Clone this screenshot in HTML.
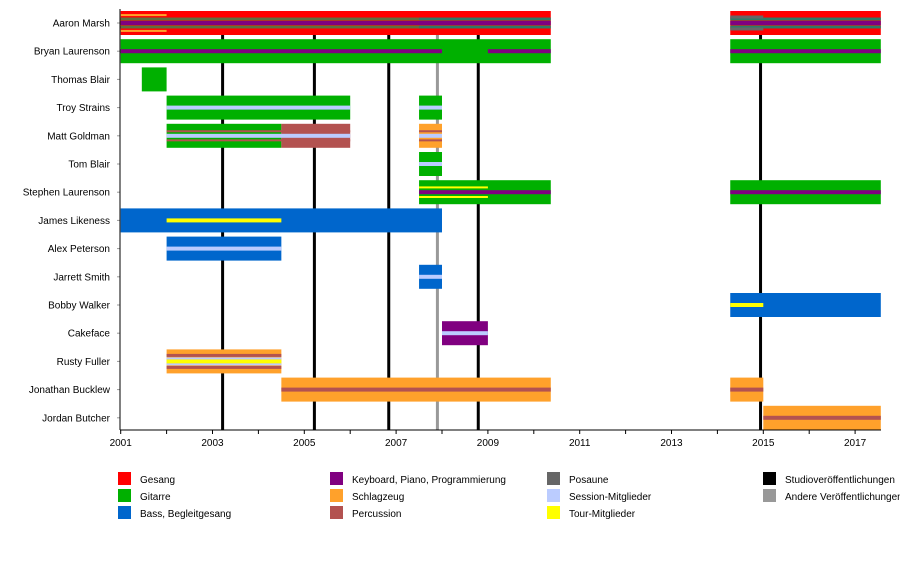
<!DOCTYPE html>
<html><head><meta charset="utf-8"><style>
body{margin:0;background:#fff;font-family:"Liberation Sans",Arial,sans-serif;}
svg text{font-family:"Liberation Sans",Arial,sans-serif;font-size:10px;fill:#000;}
</style></head><body>
<svg id="chart" width="900" height="580" xmlns="http://www.w3.org/2000/svg"></svg>
<script>
const members=["Aaron Marsh","Bryan Laurenson","Thomas Blair","Troy Strains","Matt Goldman","Tom Blair","Stephen Laurenson","James Likeness","Alex Peterson","Jarrett Smith","Bobby Walker","Cakeface","Rusty Fuller","Jonathan Bucklew","Jordan Butcher"];
// [memberIndex, start, end, role]
const mainBars=[[0,2001,2010.37,"vocals"],[0,2014.28,2017.56,"vocals"],[1,2001,2010.37,"guitar"],[1,2014.28,2017.56,"guitar"],[2,2001.46,2002,"guitar"],[3,2002,2006,"guitar"],[3,2007.5,2008,"guitar"],[4,2002,2004.5,"guitar"],[4,2004.5,2006,"percussion"],[4,2007.5,2008,"drums"],[5,2007.5,2008,"guitar"],[6,2007.5,2010.37,"guitar"],[6,2014.28,2017.56,"guitar"],[7,2001,2008,"bass"],[8,2002,2004.5,"bass"],[9,2007.5,2008,"bass"],[10,2014.28,2017.56,"bass"],[11,2008,2009,"keys"],[12,2002,2004.5,"drums"],[13,2004.5,2010.37,"drums"],[13,2014.28,2015,"drums"],[14,2015,2017.56,"drums"]];
// [memberIndex, start, end, role, offset(-1..1 from center), thickness]
const lineBars=[[0,2001,2010.37,"keys",0,4],[0,2001,2007.5,"tromboneA",-0.33,3],[0,2001,2007.5,"tromboneA",0.33,3],[0,2007.5,2010.37,"tromboneB",-0.33,3],[0,2007.5,2010.37,"tromboneB",0.33,3],[0,2001,2002,"drums",-0.66,2],[0,2001,2002,"drums",0.66,2],[0,2014.28,2017.56,"keys",0,4],[0,2014.28,2017.56,"tromboneB",-0.33,3],[0,2014.28,2017.56,"tromboneB",0.33,3],[0,2014.28,2015,"trombone",-0.5,3],[0,2014.28,2015,"trombone",0.5,3],
[1,2001,2008,"keys",0,4],[1,2009,2010.37,"keys",0,4],[1,2014.28,2017.56,"keys",0,4],
[3,2002,2006,"session",0,4],[3,2007.5,2008,"session",0,4],
[4,2002,2006,"session",0,4],[4,2002,2006,"percussion",-0.38,2],[4,2002,2006,"percussion",0.38,2],[4,2007.5,2008,"session",0,4],[4,2007.5,2008,"percussion",-0.38,2],[4,2007.5,2008,"percussion",0.38,2],
[5,2007.5,2008,"session",0,4],
[6,2007.5,2010.37,"keys",0,4],[6,2007.5,2009,"tour",-0.4,2],[6,2007.5,2009,"tour",0.4,2],[6,2014.28,2017.56,"keys",0,4],
[7,2002,2004.5,"tour",0,4],[8,2002,2004.5,"session",0,4],[9,2007.5,2008,"session",0,4],[10,2014.28,2015,"tour",0,4],[11,2008,2009,"session",0,4],
[12,2002,2004.5,"tour",0,4],[12,2002,2004.5,"percussion",-0.5,3],[12,2002,2004.5,"percussion",0.5,3],[12,2002,2004.5,"session",-0.25,2],[12,2002,2004.5,"session",0.25,2],
[13,2004.5,2010.37,"percussion",0,4],[13,2014.28,2015,"percussion",0,4],[14,2015,2017.56,"percussion",0,4]];
const studioReleases=[2003.22,2005.22,2006.84,2008.79,2014.94];
const otherReleases=[2007.9];
const tickYears=[2001,2003,2005,2007,2009,2011,2013,2015,2017];
const colors={vocals:"#ff0000",guitar:"#00b000",bass:"#0066cc",keys:"#800080",drums:"#ffa12b",percussion:"#b35250",trombone:"#666666",tromboneA:"#5e7040",tromboneB:"#2f7a66",session:"#bbccff",tour:"#ffff00"};
const NS="http://www.w3.org/2000/svg";
const svg=document.getElementById("chart");
const X0=120.7,PX=45.9,Y0=11,PITCH=28.2,BH=24,BOTTOM=430,RIGHT=881;
const x=v=>X0+(v-2001)*PX;
const yTop=i=>Y0+i*PITCH;
function el(tag,attrs,parent){const e=document.createElementNS(NS,tag);for(const k in attrs)e.setAttribute(k,attrs[k]);(parent||svg).appendChild(e);return e;}
const gBars=el("g",{});
mainBars.forEach(b=>{const r=el("rect",{x:x(b[1]),y:yTop(b[0]),width:x(b[2])-x(b[1]),height:BH,fill:colors[b[3]]},gBars);

});
lineBars.forEach(b=>{const cy=yTop(b[0])+BH/2+b[4]*BH/2;const r=el("rect",{x:x(b[1]),y:cy-b[5]/2,width:x(b[2])-x(b[1]),height:b[5],fill:colors[b[3]]},gBars);

});
studioReleases.forEach(v=>{const l=el("line",{x1:x(v),x2:x(v),y1:Y0,y2:BOTTOM,stroke:"#000","stroke-width":3});

});
otherReleases.forEach(v=>{const l=el("line",{x1:x(v),x2:x(v),y1:Y0,y2:BOTTOM,stroke:"#999","stroke-width":3});

});
svg.appendChild(gBars);
members.forEach((m,i)=>{const t=el("text",{x:110,y:yTop(i)+BH/2+3.5,"text-anchor":"end"});t.textContent=m;


el("line",{x1:117,x2:120,y1:yTop(i)+BH/2,y2:yTop(i)+BH/2,stroke:"#999","stroke-width":1});});
const ax=el("line",{x1:120,x2:RIGHT,y1:BOTTOM,y2:BOTTOM,stroke:"#000","stroke-width":1});


el("line",{x1:120,x2:120,y1:Y0-2,y2:BOTTOM,stroke:"#000","stroke-width":1});
for(let yv=2001;yv<=2017;yv++){el("line",{x1:x(yv),x2:x(yv),y1:BOTTOM,y2:BOTTOM+4,stroke:"#000","stroke-width":1});}
tickYears.forEach(v=>{const t=el("text",{x:x(v),y:BOTTOM+16,"text-anchor":"middle"});t.textContent=v;

});
const legendItems=[["Gesang","vocals",0,0],["Gitarre","guitar",0,1],["Bass, Begleitgesang","bass",0,2],["Keyboard, Piano, Programmierung","keys",1,0],["Schlagzeug","drums",1,1],["Percussion","percussion",1,2],["Posaune","trombone",2,0],["Session-Mitglieder","session",2,1],["Tour-Mitglieder","tour",2,2],["Studioveröffentlichungen","#000",3,0],["Andere Veröffentlichungen","#999",3,1]];
const colX=[118,330,547,763];
const gL=el("g",{});
legendItems.forEach(it=>{const lx=colX[it[2]],ly=472+it[3]*17;const c=colors[it[1]]||it[1];
const g=el("g",{},gL);
el("rect",{x:lx,y:ly,width:13,height:13,fill:c},g);
const t=el("text",{x:lx+22,y:ly+11},g);t.textContent=it[0];});
</script>
</body></html>
